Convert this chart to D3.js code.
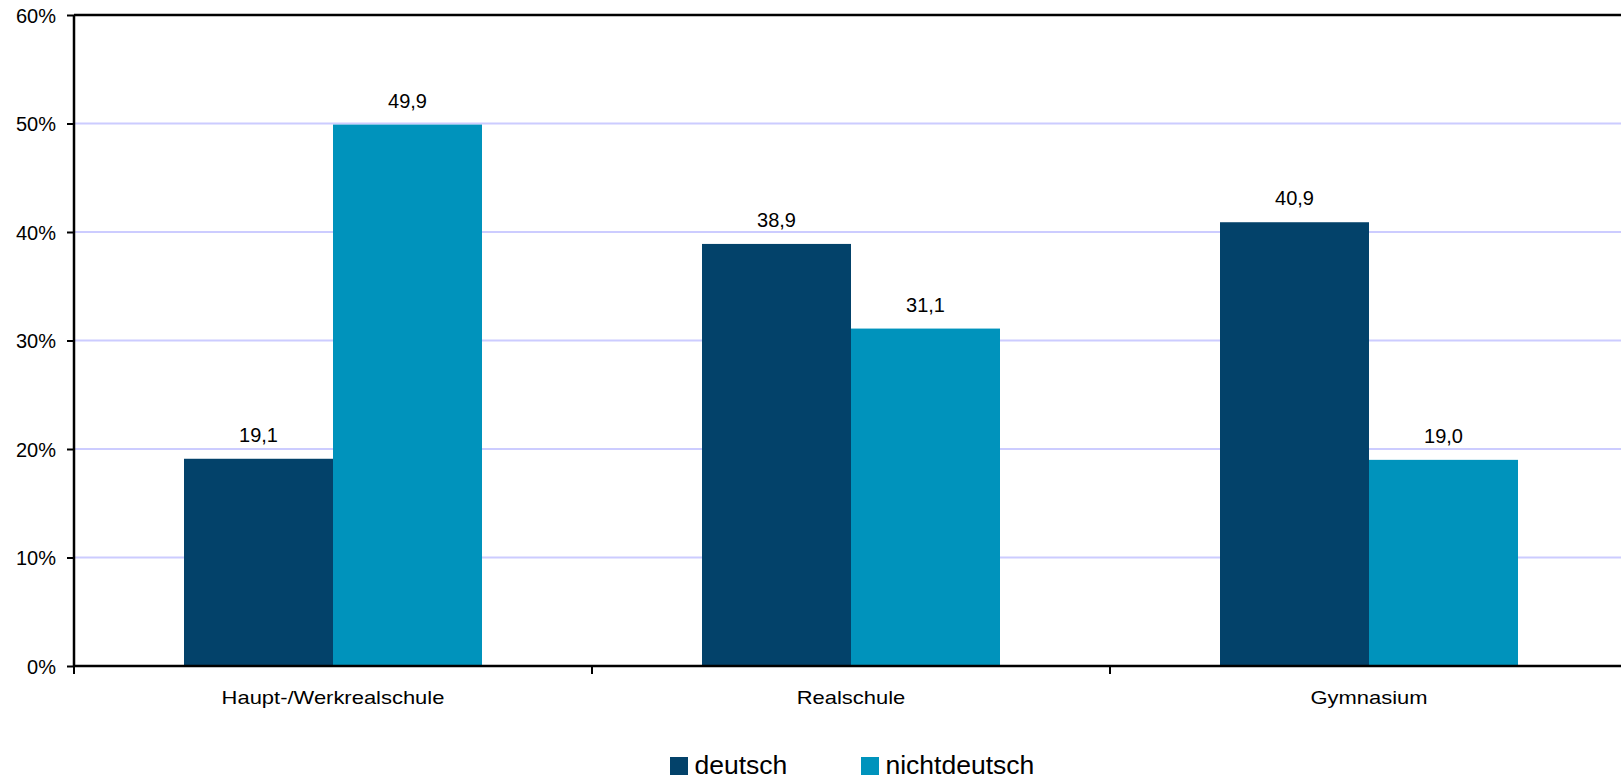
<!DOCTYPE html>
<html>
<head>
<meta charset="utf-8">
<script src="https://cdn.jsdelivr.net/npm/d3@7"></script>
<style>
  html, body { margin: 0; padding: 0; background: #fff; overflow: hidden; }
  svg { display: block; font-family: "Liberation Sans", Arial, sans-serif; }
</style>
</head>
<body>
<svg id="chart" width="1621" height="779"></svg>
<script>
// Schulart categories and shares (%) by nationality
const categories = ["Haupt-/Werkrealschule", "Realschule", "Gymnasium"];
const seriesNames = ["deutsch", "nichtdeutsch"];
const deutsch = [19.1, 38.9, 40.9];
const nichtdeutsch = [49.9, 31.1, 19.0];
const yTicks = [0, 10, 20, 30, 40, 50, 60];
const colors = ["#03426A", "#0093BC"];

const svg = d3.select("#chart");
const W = 1621, H = 779;
const margin = { left: 74, top: 15, right: -7, bottom: 113 };
const plotRight = W - margin.right;
const plotBottom = H - margin.bottom;

const x = d3.scaleBand().domain(categories).range([margin.left, plotRight]).paddingInner(0).paddingOuter(0);
const xs = d3.scaleBand().domain(seriesNames).range([0, x.bandwidth()]).paddingInner(0).paddingOuter(0.7383);
const y = d3.scaleLinear().domain([0, 60]).range([plotBottom, margin.top]);

const fmt = v => d3.format(".1f")(v).replace(".", ",");

// gridlines
svg.append("g").selectAll("line").data(yTicks.filter(t => t > 0 && t < 60)).join("line")
  .attr("x1", margin.left).attr("x2", W)
  .attr("y1", d => y(d)).attr("y2", d => y(d))
  .attr("stroke", "#ccccff").attr("stroke-width", 2);

// top border
svg.append("line").attr("x1", margin.left).attr("x2", W)
  .attr("y1", y(60)).attr("y2", y(60)).attr("stroke", "#000").attr("stroke-width", 2.5);

// bars
const data = categories.map((c, i) => ({ c, vals: [deutsch[i], nichtdeutsch[i]] }));
const groups = svg.append("g").selectAll("g").data(data).join("g")
  .attr("transform", d => `translate(${x(d.c)},0)`);
groups.selectAll("rect").data(d => d.vals.map((v, j) => ({ v, s: seriesNames[j], j }))).join("rect")
  .attr("x", d => xs(d.s)).attr("width", xs.bandwidth())
  .attr("y", d => y(d.v)).attr("height", d => y(0) - y(d.v))
  .attr("fill", d => colors[d.j]);
groups.selectAll("text").data(d => d.vals.map((v, j) => ({ v, s: seriesNames[j] }))).join("text")
  .attr("x", d => xs(d.s) + xs.bandwidth() / 2).attr("y", d => y(d.v) - 17)
  .attr("text-anchor", "middle").attr("font-size", 20).attr("fill", "#000")
  .text(d => fmt(d.v));

// y axis
const yAxis = d3.axisLeft(y).tickValues(yTicks).tickFormat(d => d + "%").tickSize(7).tickPadding(11);
const gy = svg.append("g").attr("transform", `translate(${margin.left},0)`).call(yAxis);
gy.select(".domain").attr("stroke", "#000").attr("stroke-width", 2.5).attr("d", `M0,${y(60)}V${y(0)}`);
gy.selectAll(".tick line").attr("stroke", "#000").attr("stroke-width", 2);
gy.selectAll(".tick text").attr("font-size", 20).attr("fill", "#000")
  .attr("font-family", "'Liberation Sans', Arial, sans-serif").attr("dy", "0.36em");

// x axis with ticks at category boundaries
svg.append("line").attr("x1", margin.left).attr("x2", W)
  .attr("y1", y(0)).attr("y2", y(0)).attr("stroke", "#000").attr("stroke-width", 2.5);
const bounds = categories.map(c => x(c)).concat([x(categories[2]) + x.bandwidth()]);
svg.append("g").selectAll("line").data(bounds).join("line")
  .attr("x1", d => d).attr("x2", d => d)
  .attr("y1", y(0)).attr("y2", y(0) + 8)
  .attr("stroke", "#000").attr("stroke-width", 2);
// category labels, set slightly wide
svg.append("g").selectAll("text").data(categories).join("text")
  .attr("transform", d => `translate(${x(d) + x.bandwidth() / 2},704) scale(1.22,1)`)
  .attr("text-anchor", "middle").attr("font-size", 18).attr("fill", "#000")
  .text(d => d);

// legend
const legendItems = [{ name: "deutsch", x: 670 }, { name: "nichtdeutsch", x: 861 }];
const lg = svg.append("g").selectAll("g").data(legendItems).join("g")
  .attr("transform", d => `translate(${d.x},0)`);
lg.append("rect").attr("x", 0).attr("y", 757).attr("width", 18).attr("height", 18)
  .attr("fill", (d, i) => colors[i]);
lg.append("text").attr("x", 24).attr("y", 774).attr("font-size", 26).attr("fill", "#000")
  .attr("transform", "scale(1.02,1)")
  .text(d => d.name);
</script>
</body>
</html>
